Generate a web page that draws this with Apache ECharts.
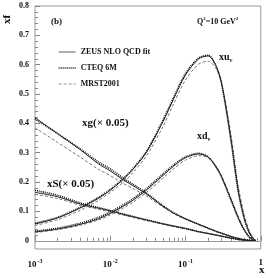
<!DOCTYPE html>
<html><head><meta charset="utf-8">
<script src="https://cdn.jsdelivr.net/npm/echarts@6/dist/echarts.min.js"></script>
<style>html,body{margin:0;padding:0;background:#fff}#c{width:266px;height:278px}</style>
</head><body><div id="c"></div>
<script>
var xs = [0.001,0.002,0.004,0.007,0.01,0.015,0.02,0.03,0.05,0.07,0.1,0.15,0.2,0.25,0.3,0.4,0.5,0.6,0.7,0.8,0.85];

var xuvZEUS = [0.057,0.078,0.112,0.145,0.172,0.21,0.243,0.3,0.405,0.485,0.565,0.62,0.63,0.6,0.54,0.35,0.175,0.08,0.03,0.007,0.002];
var xuvCTEQ = [0.060,0.080,0.114,0.148,0.175,0.213,0.246,0.303,0.41,0.49,0.57,0.623,0.632,0.6,0.538,0.345,0.17,0.077,0.028,0.006,0.002];
var xuvMRST = [0.052,0.072,0.104,0.138,0.165,0.2,0.232,0.288,0.388,0.468,0.548,0.602,0.612,0.59,0.54,0.365,0.19,0.09,0.035,0.008,0.002];

var xdvZEUS = [0.030,0.040,0.056,0.075,0.093,0.118,0.138,0.172,0.222,0.255,0.283,0.296,0.285,0.255,0.22,0.142,0.08,0.038,0.014,0.002,0.0005];
var xdvCTEQ = [0.033,0.043,0.060,0.080,0.098,0.123,0.143,0.177,0.227,0.259,0.286,0.298,0.286,0.255,0.218,0.14,0.078,0.037,0.013,0.002,0.0005];
var xdvMRST = [0.028,0.038,0.053,0.071,0.088,0.112,0.131,0.164,0.213,0.246,0.275,0.29,0.283,0.256,0.222,0.146,0.084,0.04,0.015,0.003,0.0005];

var xgZEUS = [0.42,0.365,0.31,0.262,0.238,0.207,0.188,0.16,0.118,0.094,0.075,0.056,0.043,0.033,0.026,0.015,0.008,0.004,0.0015,0.0004,0.0001];
var xgCTEQ = [0.415,0.365,0.313,0.268,0.245,0.213,0.193,0.163,0.12,0.095,0.075,0.056,0.043,0.033,0.026,0.015,0.008,0.004,0.0015,0.0004,0.0001];
var xgMRST = [0.385,0.335,0.285,0.243,0.222,0.195,0.178,0.153,0.115,0.092,0.073,0.055,0.042,0.032,0.025,0.014,0.007,0.003,0.001,0.0003,0.0001];

var xSZEUS = [0.165,0.150,0.125,0.111,0.102,0.090,0.082,0.071,0.058,0.05,0.042,0.031,0.025,0.02,0.016,0.009,0.005,0.002,0.001,0.0003,0.0001];
var xSCTEQ = [0.172,0.155,0.129,0.113,0.103,0.091,0.083,0.072,0.058,0.05,0.042,0.031,0.025,0.02,0.016,0.009,0.005,0.002,0.001,0.0003,0.0001];
var xSMRST = [0.158,0.144,0.121,0.107,0.098,0.087,0.079,0.069,0.056,0.048,0.04,0.030,0.024,0.019,0.015,0.009,0.005,0.002,0.001,0.0003,0.0001];

var legendNames = ['ZEUS NLO QCD fit','CTEQ 6M','MRST2001'];
var yTicks = [0,0.1,0.2,0.3,0.4,0.5,0.6,0.7,0.8];
var yMinorTicks = [0.02,0.04,0.06,0.08,0.12,0.14,0.16,0.18,0.22,0.24,0.26,0.28,0.32,0.34,0.36,0.38,0.42,0.44,0.46,0.48,0.52,0.54,0.56,0.58,0.62,0.64,0.66,0.68,0.72,0.74,0.76,0.78];
var xMinorTicks = [0.002,0.003,0.004,0.005,0.006,0.007,0.008,0.009,0.02,0.03,0.04,0.05,0.06,0.07,0.08,0.09,0.2,0.3,0.4,0.5,0.6,0.7,0.8,0.9];

var FONT = 'Liberation Serif';
var styles = [
  {name: legendNames[0], color:'#222', lineStyle: {color:'#222', width:1, type:'solid'}},
  {name: legendNames[1], color:'#111', lineStyle: {color:'#111', width:1.6, type:[1,1]}},
  {name: legendNames[2], color:'#777', lineStyle: {color:'#777', width:1, type:[3,2]}}
];
var groups = [
  [xuvZEUS, xuvCTEQ, xuvMRST],
  [xdvZEUS, xdvCTEQ, xdvMRST],
  [xgZEUS, xgCTEQ, xgMRST],
  [xSZEUS, xSCTEQ, xSMRST]
];
function pairs(arr){ return xs.map(function(x,i){ return [x, arr[i]]; }); }

var series = [];
groups.forEach(function(g){
  g.forEach(function(arr, k){
    series.push({
      type:'line', name: styles[k].name, data: pairs(arr), smooth: 0.3,
      showSymbol:false, symbol:'none', silent:true,
      itemStyle:{color: styles[k].color},
      lineStyle: styles[k].lineStyle, z: 3 - k
    });
  });
});
series.push({
  type:'line', data: [], silent:true,
  markLine:{silent:true, symbol:'none', label:{show:false},
    lineStyle:{color:'#999', width:1, type:'solid'}, data:[{yAxis:0}]}
});

var legendData = [
  {name: legendNames[0], lineStyle:{color:'#333', width:0.8, type:'solid'}},
  {name: legendNames[1], lineStyle:{color:'#111', width:1.3, type:[1,1]}},
  {name: legendNames[2], lineStyle:{color:'#777', width:0.8, type:[3,2]}}
];

var chart = echarts.init(document.getElementById('c'), null, {renderer:'canvas'});
chart.setOption({
  animation:false,
  grid:{left:35, right:1, top:6, bottom:29, show:true, borderColor:'#999', borderWidth:1},
  legend:{
    data: legendData, orient:'vertical', left:53, top:43, itemWidth:17, itemHeight:8, itemGap:8,
    itemStyle:{opacity:0, borderWidth:0},
    textStyle:{fontFamily:FONT, fontWeight:'bold', fontSize:8, color:'#111'},
    selectedMode:false
  },
  xAxis:[{
    type:'log', logBase:10, min:0.001, max:1,
    axisLine:{show:false},
    axisTick:{show:true, inside:true, length:5, lineStyle:{color:'#888'}},
    splitLine:{show:false},
    axisLabel:{margin:9, color:'#111', fontFamily:FONT, fontWeight:'bold', fontSize:9,
      formatter:function(v){ var e = Math.round(Math.log10(v)); return e===0 ? '1' : '10{s|'+e+'}'; },
      rich:{s:{fontSize:6, fontFamily:FONT, fontWeight:'bold', color:'#111', padding:[0,0,8,1]}}}
  },{
    type:'log', logBase:10, min:0.001, max:1, position:'bottom',
    axisLine:{show:false}, splitLine:{show:false}, axisLabel:{show:false},
    axisTick:{show:true, inside:true, length:3, customValues:xMinorTicks, lineStyle:{color:'#888'}}
  }],
  yAxis:[{
    type:'value', min:-0.028, max:0.8,
    axisLine:{show:false}, splitLine:{show:false},
    axisTick:{show:true, inside:true, length:5, customValues:yTicks, lineStyle:{color:'#888'}},
    axisLabel:{customValues:yTicks, margin:6, color:'#111', fontFamily:FONT, fontWeight:'bold', fontSize:8,
      formatter:function(v){ return Math.abs(v)<1e-9 ? '0' : v.toFixed(1); }}
  },{
    type:'value', min:-0.028, max:0.8, position:'left',
    axisLine:{show:false}, splitLine:{show:false}, axisLabel:{show:false},
    axisTick:{show:true, inside:true, length:3, customValues:yMinorTicks, lineStyle:{color:'#888'}}
  }],
  series: series,
  graphic:[
    {type:'text', left:51, top:17, style:{text:'(b)', font:'bold 9px '+FONT, fill:'#111'}},
    {type:'text', left:197, top:16, style:{text:'Q{s|2}=10 GeV{s|2}', font:'bold 8px '+FONT, fill:'#111',
      rich:{s:{fontSize:5, fontWeight:'bold', fontFamily:FONT, padding:[0,0,6,0]}}}},
    {type:'text', left:219, top:52, style:{text:'xu{s|v}', font:'bold 10px '+FONT, fill:'#111',
      rich:{s:{fontSize:6, fontWeight:'bold', fontFamily:FONT, padding:[6,0,0,0]}}}},
    {type:'text', left:197, top:131, style:{text:'xd{s|v}', font:'bold 10px '+FONT, fill:'#111',
      rich:{s:{fontSize:6, fontWeight:'bold', fontFamily:FONT, padding:[6,0,0,0]}}}},
    {type:'text', left:82, top:118, style:{text:'xg(× 0.05)', font:'bold 11px '+FONT, fill:'#111'}},
    {type:'text', left:47, top:179, style:{text:'xS(× 0.05)', font:'bold 11px '+FONT, fill:'#111'}},
    {type:'text', x:2, y:24, rotation:Math.PI/2, style:{text:'xf', font:'bold 11px '+FONT, fill:'#111', verticalAlign:'top', align:'left'}},
    {type:'text', left:259, top:265, style:{text:'x', font:'bold 11px '+FONT, fill:'#111'}}
  ]
});
</script></body></html>
